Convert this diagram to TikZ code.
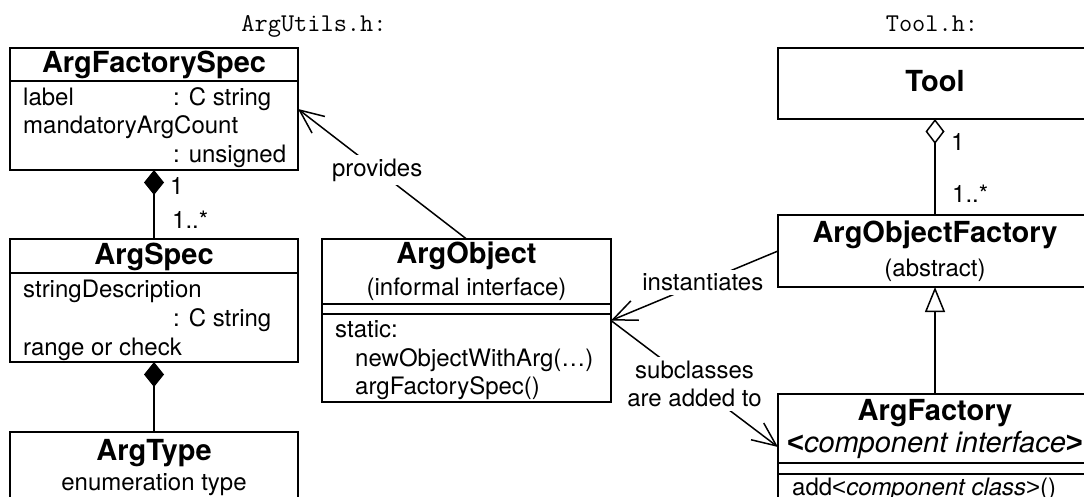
\documentclass[tikz,border=0pt]{standalone}
\usepackage{fontspec}
\setmainfont{TeX Gyre Heros}
\newfontfamily\signfnt{Liberation Sans}
\usetikzlibrary{arrows.meta}
\newcommand\bodyfnt{\fontsize{24pt}{28.5pt}\selectfont}
\newcommand\titlefnt{\fontsize{29pt}{32.5pt}\selectfont\bfseries}
\newcommand\monofnt{\fontsize{25.6pt}{30pt}\selectfont\ttfamily}
% wide angle brackets for template parameters
\newcommand\ltsign{{\signfnt\upshape <}}
\newcommand\gtsign{{\signfnt\upshape >}}
\tikzset{
  box/.style={draw, line width=1.5pt, inner sep=0pt, outer sep=0pt, anchor=north west},
  body/.style={inner sep=0pt, font=\bodyfnt, anchor=base west},
  bodyc/.style={inner sep=0pt, font=\bodyfnt, anchor=base},
  title/.style={inner sep=0pt, font=\titlefnt, anchor=base},
  file/.style={inner sep=0pt, font=\monofnt, anchor=base},
  lbl/.style={fill=white, inner sep=4pt, font=\bodyfnt, align=center},
  conn/.style={line width=1.5pt},
  barb/.style={-{Straight Barb[length=24pt,width=21pt]}},
  comp/.style={{Diamond[length=25pt,width=20pt]}-},
  aggr/.style={{Diamond[open,length=25pt,width=19pt]}-},
  inherit/.style={-{Triangle[open,length=25pt,width=20pt]}},
}
\begin{document}
\begin{tikzpicture}[x=1pt,y=-1pt]
\useasboundingbox (0,0) rectangle (1084,497);
\clip (0,0) rectangle (1084,497);

% file headings
\node[file] (hargutils) at (314,32) {ArgUtils.h:};
\node[file] (htool) at (932,32) {Tool.h:};

% ---- ArgUtils.h classes ----
\node[box, minimum width=288pt, minimum height=122pt] (afs) at (10,48) {};
\draw[conn] (afs.west |- 0,81) -- (afs.east |- 0,81);
\node[title] (afs-t) at (154,73) {ArgFactorySpec};
\node[body] (afs-a1) at (23,106) {label};
\node[body] (afs-a1t) at (173,106) {: C string};
\node[body] (afs-a2) at (23,134) {mandatoryArgCount};
\node[body] (afs-a2t) at (173,163) {: unsigned};

\node[box, minimum width=288pt, minimum height=123pt] (as) at (10,239) {};
\draw[conn] (as.west |- 0,273) -- (as.east |- 0,273);
\node[title] (as-t) at (154,264) {ArgSpec};
\node[body] (as-a1) at (23,297) {stringDescription};
\node[body] (as-a1t) at (173,326) {: C string};
\node[body] (as-a2) at (23,355) {range or check};

\node[box, minimum width=288pt, minimum height=80pt] (at) at (10,432) {};
\node[title] (at-t) at (154,460) {ArgType};
\node[bodyc] (at-s) at (154,490) {enumeration type};

\node[box, minimum width=289pt, minimum height=163pt] (ao) at (322,239) {};
\draw[conn] (ao.west |- 0,304) -- (ao.east |- 0,304);
\draw[conn] (ao.west |- 0,314) -- (ao.east |- 0,314);
\node[title] (ao-t) at (466.5,263) {ArgObject};
\node[bodyc] (ao-s) at (466.5,295) {(informal interface)};
\node[body] (ao-m0) at (335,337) {static:};
\node[body] (ao-m1) at (355,366) {newObjectWithArg(\ldots)};
\node[body] (ao-m2) at (355,394) {argFactorySpec()};

% ---- Tool.h classes ----
\node[box, minimum width=314pt, minimum height=71pt] (tool) at (778,48) {};
\node[title] (tool-t) at (935,92) {Tool};

\node[box, minimum width=314pt, minimum height=72pt] (aof) at (778,215) {};
\node[title] (aof-t) at (935,243) {ArgObjectFactory};
\node[bodyc] (aof-s) at (935,276) {(abstract)};

\node[box, minimum width=314pt, minimum height=106pt] (af) at (778,394) {};
\draw[conn] (af.west |- 0,463) -- (af.east |- 0,463);
\draw[conn] (af.west |- 0,474) -- (af.east |- 0,474);
\node[title] (af-t) at (935,420) {ArgFactory};
\node[title] (af-s) at (935,452) {\ltsign{\mdseries\itshape component interface\/}\gtsign};
\node[body] (af-m1) at (792,495) {add{\mdseries\ltsign}\textit{component class\/}{\mdseries\gtsign}()};

% ---- associations ----
\draw[conn, comp] (afs.south) -- (as.north);
\node[body] (m-afs) at (170,195) {1};
\node[body] (m-as) at (172,229) {1..*};
\draw[conn, comp] (as.south) -- (at.north);

\draw[conn, aggr] (tool.south) -- (aof.north);
\node[body] (m-tool) at (951,151) {1};
\node[body] (m-aof) at (952,203) {1..*};
\draw[conn, inherit] (af.north) -- (aof.south);

\draw[conn, barb] (ao.north) -- node[lbl, pos=0.53] (l-prov) {provides} (afs.east);
\draw[conn, barb] (aof.west) -- node[lbl, pos=0.45] (l-inst) {instantiates} (ao.east);
\draw[conn, barb] (ao.east) -- node[lbl] (l-sub) {subclasses\\are added to} (af.west);
\end{tikzpicture}
\end{document}
